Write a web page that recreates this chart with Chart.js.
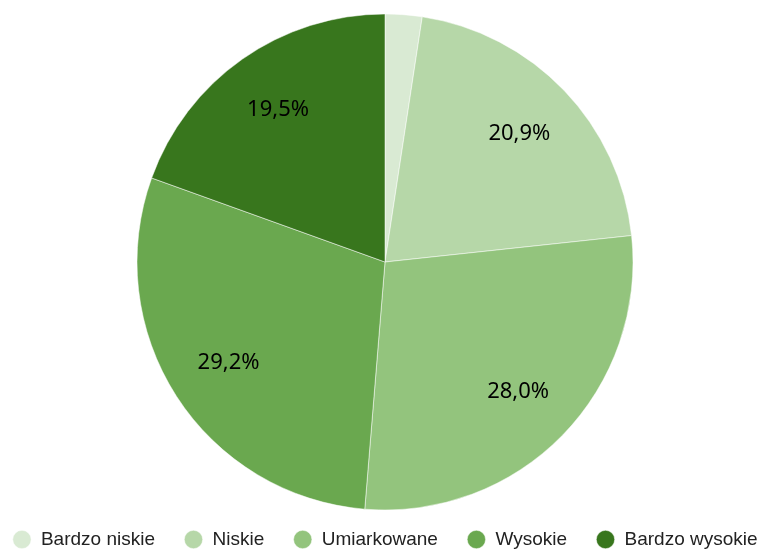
<!DOCTYPE html>
<html lang="pl">
<head>
<meta charset="utf-8">
<script src="https://cdn.jsdelivr.net/npm/chart.js@4"></script>
<style>
    html, body {
        margin: 0;
        padding: 0;
        overflow: hidden;
        background: #fff;
    }
    #wrap {
        position: absolute;
        left: -25px;
        top: 0;
    }
</style>
</head>
<body>
<div id="wrap">
    <canvas id="risk-share" width="820" height="559"></canvas>
</div>
<script>
const categories = ['Bardzo niskie', 'Niskie', 'Umiarkowane', 'Wysokie', 'Bardzo wysokie'];
const shares = [2.4, 20.9, 28.0, 29.2, 19.5];
const colors = ['#d9ead3', '#b6d7a8', '#93c47d', '#6aa84f', '#38761d'];

let numberFormatter = new Intl.NumberFormat('pl-PL', {
    minimumFractionDigits: 1,
    maximumFractionDigits: 1,
});

// percentage labels inside slices, small slices stay empty
const sliceLabels = {
    id: 'sliceLabels',
    afterDatasetsDraw(chart) {
        let ctx = chart.ctx;
        let meta = chart.getDatasetMeta(0);

        ctx.save();
        ctx.font = '22px "Noto Sans"';
        ctx.fillStyle = '#000';
        ctx.textAlign = 'center';
        ctx.textBaseline = 'middle';

        meta.data.forEach((arc, i) => {
            if (shares[i] < 5) {
                return;
            }
            let p = arc.getProps(['x', 'y', 'startAngle', 'endAngle', 'outerRadius'], true);
            let mid = (p.startAngle + p.endAngle) / 2;
            let r = p.outerRadius * 0.75;
            ctx.fillText(numberFormatter.format(shares[i]) + '%', p.x + Math.cos(mid) * r, p.y + Math.sin(mid) * r);
        });

        ctx.restore();
    }
};

new Chart(document.getElementById('risk-share'), {
    type: 'pie',
    data: {
        labels: categories,
        datasets: [
            {
                data: shares,
                backgroundColor: colors,
                borderColor: '#fff',
                borderWidth: 0.5,
                radius: 248,
            }
        ]
    },
    options: {
        responsive: false,
        animation: false,
        layout: {
            padding: {top: 23}
        },
        plugins: {
            legend: {
                position: 'bottom',
                labels: {
                    usePointStyle: true,
                    pointStyle: 'circle',
                    boxHeight: 13,
                    padding: 29,
                    color: '#222',
                    font: {
                        family: '"Liberation Sans", Arial, sans-serif',
                        size: 19,
                    }
                }
            },
            tooltip: {
                enabled: false
            }
        }
    },
    plugins: [sliceLabels]
});
</script>
</body>
</html>
